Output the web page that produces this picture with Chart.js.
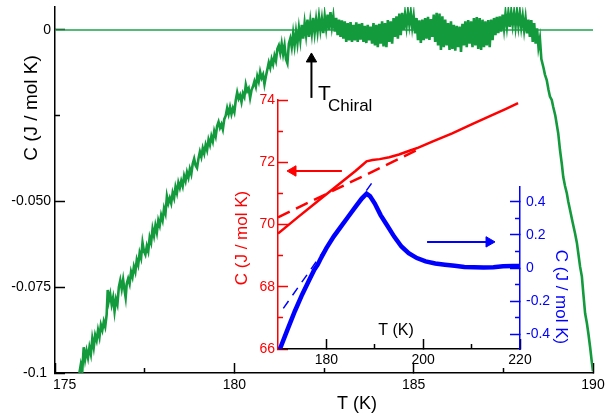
<!DOCTYPE html>
<html><head><meta charset="utf-8">
<script src="https://cdn.jsdelivr.net/npm/chart.js@4"></script>
<style>
html,body{margin:0;padding:0;background:#fff;}
#wrap{position:relative;width:606px;height:417px;overflow:hidden;}
#wrap canvas{position:absolute;left:0;top:0;}
</style></head><body>
<div id="wrap">
<canvas id="cMain" width="606" height="417"></canvas>
<canvas id="cRed" width="606" height="417"></canvas>
<canvas id="cBlue" width="606" height="417"></canvas>
</div>
<script>
// ---------- main plot data (excess heat capacity, noisy trace) ----------
const greenT = [
175.68,175.72,175.76,175.80,175.84,175.88,175.92,175.96,176.00,176.04,
176.08,176.12,176.16,176.20,176.24,176.28,176.32,176.36,176.40,176.44,
176.47,176.50,176.54,176.58,176.62,176.66,176.70,176.74,176.78,176.82,
176.86,176.90,176.94,176.97,177.00,177.04,177.08,177.12,177.16,177.20,
177.24,177.28,177.32,177.36,177.40,177.44,177.48,177.52,177.56,177.60,
177.64,177.68,177.72,177.76,177.80,177.84,177.88,177.92,177.96,178.00,
178.04,178.08,178.12,178.16,178.20,178.24,178.28,178.32,178.36,178.40,
178.44,178.48,178.52,178.56,178.60,178.64,178.68,178.72,178.76,178.80,
178.84,178.88,178.92,178.96,179.00,179.04,179.08,179.12,179.16,179.20,
179.24,179.28,179.32,179.36,179.40,179.44,179.48,179.52,179.56,179.60,
179.64,179.68,179.72,179.76,179.80,179.84,179.88,179.92,179.96,180.00,
180.04,180.08,180.12,180.16,180.20,180.24,180.28,180.32,180.36,180.40,
180.44,180.48,180.52,180.56,180.60,180.64,180.68,180.72,180.76,180.80,
180.84,180.88,180.92,180.96,181.00,181.04,181.08,181.12,181.16,181.20,
181.24,181.28,181.32,181.36,181.40,181.44,181.48,181.52,181.56,181.60,
181.64,181.68,181.72,181.76,181.80,181.84,181.88,181.92,181.96,182.00,
182.04,182.08,182.12,182.16,182.20,182.24,182.28,182.32,182.36,182.40,
182.44,182.48,182.52,182.56,182.60,182.64,182.68,182.72,182.76,182.80,
182.84,182.88,182.92,182.96,183.00,183.04,183.08,183.12,183.16,183.20,
183.24,183.28,183.32,183.36,183.40,183.44,183.48,183.52,183.56,183.60,
183.64,183.68,183.72,183.76,183.80,183.84,183.88,183.92,183.96,184.00,
184.04,184.08,184.12,184.16,184.20,184.24,184.28,184.32,184.36,184.40,
184.44,184.48,184.52,184.56,184.60,184.64,184.68,184.72,184.76,184.80,
184.84,184.88,184.92,184.96,185.00,185.04,185.08,185.12,185.16,185.20,
185.24,185.28,185.32,185.36,185.40,185.44,185.48,185.52,185.56,185.60,
185.64,185.68,185.72,185.76,185.80,185.84,185.88,185.92,185.96,186.00,
186.04,186.08,186.12,186.16,186.20,186.24,186.28,186.32,186.36,186.40,
186.44,186.48,186.52,186.56,186.60,186.64,186.68,186.72,186.76,186.80,
186.84,186.88,186.92,186.96,187.00,187.04,187.08,187.12,187.16,187.20,
187.24,187.28,187.32,187.36,187.40,187.44,187.48,187.52,187.56,187.60,
187.64,187.68,187.72,187.76,187.80,187.84,187.88,187.92,187.96,188.00,
188.04,188.08,188.12,188.16,188.20,188.24,188.28,188.32,188.36,188.40,
188.44,188.48,188.52,188.56,188.62,188.66,188.71,188.76,188.80,188.85,
188.89,188.95,189.03,189.08,189.13,189.17,189.22,189.27,189.31,189.36,
189.43,189.50,189.55,189.59,189.64,189.69,189.73,189.78,189.83,189.87,
189.92,189.96,190.00];
const greenC = [
-0.1000,-0.0975,-0.0995,-0.0925,-0.0960,-0.0935,-0.0955,-0.0925,-0.0945,-0.0900,
-0.0925,-0.0890,-0.0905,-0.0875,-0.0895,-0.0860,-0.0875,-0.0850,-0.0865,-0.0830,
-0.0758,-0.0790,-0.0770,-0.0800,-0.0780,-0.0820,-0.0785,-0.0800,-0.0750,-0.0730,
-0.0755,-0.0728,-0.0760,-0.0780,-0.0740,-0.0725,-0.0740,-0.0705,-0.0720,-0.0690,
-0.0705,-0.0670,-0.0685,-0.0650,-0.0665,-0.0620,-0.0645,-0.0655,-0.0630,-0.0645,
-0.0605,-0.0620,-0.0580,-0.0600,-0.0570,-0.0590,-0.0555,-0.0570,-0.0540,-0.0555,
-0.0520,-0.0535,-0.0485,-0.0505,-0.0490,-0.0505,-0.0475,-0.0490,-0.0458,-0.0475,
-0.0445,-0.0460,-0.0440,-0.0455,-0.0425,-0.0440,-0.0415,-0.0430,-0.0405,-0.0420,
-0.0390,-0.0375,-0.0395,-0.0402,-0.0375,-0.0355,-0.0370,-0.0345,-0.0360,-0.0335,
-0.0350,-0.0320,-0.0335,-0.0310,-0.0325,-0.0295,-0.0310,-0.0280,-0.0268,-0.0285,
-0.0275,-0.0290,-0.0260,-0.0250,-0.0228,-0.0245,-0.0225,-0.0245,-0.0228,-0.0240,
-0.0205,-0.0182,-0.0200,-0.0190,-0.0210,-0.0185,-0.0195,-0.0160,-0.0178,-0.0170,
-0.0198,-0.0175,-0.0165,-0.0150,-0.0165,-0.0135,-0.0150,-0.0122,-0.0140,-0.0130,
-0.0158,-0.0135,-0.0115,-0.0095,-0.0110,-0.0085,-0.0100,-0.0075,-0.0090,-0.0055,
-0.0045,-0.0067,-0.0040,-0.0070,-0.0045,-0.0085,-0.0097,-0.0040,-0.0025,-0.0050,
-0.0010,-0.0045,-0.0005,-0.0038,0.0005,-0.0030,0.0015,-0.0025,0.0020,-0.0015,
0.0030,-0.0020,0.0025,-0.0010,0.0035,-0.0008,0.0030,-0.0005,0.0038,0.0000,
0.0032,-0.0009,0.0040,0.0005,0.0045,0.0000,0.0052,0.0010,0.0040,-0.0005,
0.0035,-0.0015,0.0030,-0.0020,0.0028,-0.0025,0.0025,-0.0035,0.0020,-0.0030,
0.0023,-0.0035,0.0015,-0.0030,0.0022,-0.0035,0.0018,-0.0028,0.0020,-0.0035,
0.0012,-0.0038,0.0015,-0.0030,0.0010,-0.0040,0.0020,-0.0045,0.0015,-0.0050,
0.0018,-0.0040,0.0025,-0.0048,0.0020,-0.0050,0.0029,-0.0035,0.0025,-0.0040,
0.0035,-0.0020,0.0040,-0.0025,0.0048,-0.0015,0.0050,0.0000,0.0045,0.0010,
0.0052,0.0015,0.0050,0.0008,0.0040,-0.0010,0.0035,-0.0030,0.0028,-0.0038,
0.0030,-0.0030,0.0035,-0.0025,0.0038,-0.0029,0.0032,-0.0020,0.0045,-0.0035,
0.0050,-0.0045,0.0048,-0.0058,0.0040,-0.0050,0.0030,-0.0045,0.0020,-0.0058,
0.0025,-0.0055,0.0015,-0.0060,0.0012,-0.0050,0.0010,-0.0064,0.0018,-0.0045,
0.0025,-0.0050,0.0029,-0.0040,0.0025,-0.0050,0.0035,-0.0045,0.0038,-0.0055,
0.0035,-0.0058,0.0030,-0.0050,0.0025,-0.0045,0.0029,-0.0050,0.0030,-0.0030,
0.0035,-0.0015,0.0038,-0.0009,0.0040,-0.0005,0.0045,0.0005,0.0048,0.0010,
0.0050,0.0009,0.0052,0.0015,0.0050,0.0010,0.0052,0.0012,0.0050,0.0008,
0.0040,0.0000,0.0035,-0.0010,0.0030,-0.0020,0.0029,-0.0035,0.0020,-0.0040,
0.0005,-0.0050,-0.0025,-0.0085,-0.0110,-0.0130,-0.0146,-0.0175,-0.0194,-0.0204,
-0.0224,-0.0250,-0.0301,-0.0350,-0.0390,-0.0428,-0.0455,-0.0476,-0.0500,-0.0525,
-0.0560,-0.0593,-0.0620,-0.0651,-0.0690,-0.0719,-0.0768,-0.0826,-0.0855,-0.0884,
-0.0925,-0.0962,-0.0995];
const zeroT = [175, 190];
const zeroC = [0, 0];
const chiralLineT = [182.15, 182.15];
const chiralLineC = [-0.0198, -0.0093];
const chiralHeadT = [182.15];
const chiralHeadC = [-0.00845];

const mainXTicks = [175, 180, 185, 190];
const mainXLabels = ['     175', '180', '185', '190'];
const mainXMinor = [177.5, 182.5, 187.5];
const mainYTicks = [0, -0.05, -0.075, -0.1];
const mainYLabels = ['0', '-0.050', '-0.075', '-0.1 '];
const mainYMinor = [-0.025];

// ---------- inset: total heat capacity (red, left axis) ----------
const redT = [170, 174, 178, 182, 186, 187.5, 188.3, 189.5, 191, 193, 195, 197, 199, 202, 206, 210, 214, 217, 219.6];
const redC = [69.71, 70.22, 70.72, 71.22, 71.72, 71.92, 72.03, 72.07, 72.10, 72.16, 72.25, 72.36, 72.47, 72.67, 72.93, 73.22, 73.50, 73.71, 73.90];
const redBaseT = [170, 199.5];
const redBaseC = [70.23, 72.45];
const redArrowT = [173.1, 183.2];
const redArrowC = [71.72, 71.72];
const redTicks = [66, 68, 70, 72, 74];
const redMinor = [67, 69, 71, 73];
const insetXTicks = [180, 200, 220];
const insetXMinor = [190, 210];

// ---------- inset: excess heat capacity (blue, right axis) ----------
const blueT = [170.4, 172.0, 173.5, 175.0, 176.5, 177.5, 178.2, 178.7, 180.0, 181.5, 183.0, 184.5, 186.0, 187.3, 188.3, 189.0, 190.0, 191.2, 192.5, 194.0, 195.5, 197.0, 198.7, 200.5, 202.5, 204.5, 206.5, 208.5, 210.5, 212.5, 214.5, 216.5, 218.5, 220.0];
const blueC = [-0.49, -0.37, -0.26, -0.16, -0.07, -0.01, 0.02, 0.05, 0.12, 0.19, 0.25, 0.31, 0.37, 0.42, 0.45, 0.435, 0.39, 0.32, 0.26, 0.19, 0.13, 0.09, 0.06, 0.04, 0.027, 0.02, 0.013, 0.006, 0.004, 0.003, 0.005, 0.01, 0.012, 0.012];
const blueBaseT = [171.1, 190.0];
const blueBaseC = [-0.244, 0.54];
const blueArrowT = [200.8, 213.6];
const blueArrowC = [0.158, 0.158];
const blueTicks = [-0.4, -0.2, 0, 0.2, 0.4];
const blueLabels = ['-0.4', '-0.2', '0', '0.2', '0.4'];
const blueMinor = [-0.3, -0.1, 0.1, 0.3];

// ---------- helpers ----------
const FONT = "'Liberation Sans', Arial, Helvetica, sans-serif";
const GREEN = '#129a3c', RED = '#ff0000', BLUE = '#0000ff';
const pts = (xs, ys) => xs.map((x, i) => ({x: x, y: ys[i]}));
const fixTicks = list => s => { s.ticks = list.map(v => ({value: v})); };
const noPad = s => { s.paddingTop = 0; s.paddingBottom = 0; s.paddingLeft = 0; s.paddingRight = 0; };
const fixSize = (prop, size) => s => { s[prop] = size; noPad(s); };
function minorAxis(axis, min, max, pos, list, color, len) {
  return { type: 'linear', axis: axis, min: min, max: max, position: pos,
    afterBuildTicks: fixTicks(list), afterFit: noPad,
    ticks: {display: false}, border: {display: false},
    grid: {drawOnChartArea: false, drawTicks: true, tickLength: len, tickWidth: 1.5, tickColor: color} };
}
function textPlugin(items) {
  return { id: 'texts', afterDraw(chart) {
    const ctx = chart.ctx;
    items.forEach(t => {
      ctx.save();
      ctx.translate(t.x, t.y);
      ctx.rotate(t.rot || 0);
      ctx.font = t.size + 'px ' + FONT;
      ctx.fillStyle = t.color || '#000';
      ctx.textAlign = t.align || 'center';
      ctx.textBaseline = t.base || 'middle';
      ctx.fillText(t.text, 0, 0);
      ctx.restore();
    });
  }};
}
const common = {
  responsive: false, animation: false, devicePixelRatio: 1,
  plugins: {legend: {display: false}, tooltip: {enabled: false}},
  elements: {point: {radius: 0}, line: {tension: 0}}
};

// ---------- main chart ----------
new Chart(document.getElementById('cMain'), {
  type: 'line',
  data: { datasets: [
    {data: pts(greenT, greenC), borderColor: GREEN, borderWidth: 2.6, xAxisID: 'x', yAxisID: 'y'},
    {data: pts(zeroT, zeroC), borderColor: '#1aa34a', borderWidth: 1.3, xAxisID: 'x', yAxisID: 'y'},
    {data: pts(chiralLineT, chiralLineC), borderColor: '#000', borderWidth: 2, xAxisID: 'x', yAxisID: 'y'},
    {data: pts(chiralHeadT, chiralHeadC), showLine: false, pointStyle: 'triangle', pointRadius: 6, pointRotation: 0,
     pointBackgroundColor: '#000', pointBorderColor: '#000', pointBorderWidth: 1, xAxisID: 'x', yAxisID: 'y'}
  ]},
  options: Object.assign({}, common, {
    layout: {padding: {left: 0, top: 7, right: 13, bottom: 0}},
    scales: {
      x: { type: 'linear', min: 175, max: 190, position: 'bottom',
        afterBuildTicks: fixTicks(mainXTicks), afterFit: fixSize('height', 44),
        ticks: {autoSkip: false, maxRotation: 0, padding: 14, color: '#000', font: {family: FONT, size: 14},
          callback: (v, i) => mainXLabels[i]},
        border: {color: '#000', width: 1.5},
        grid: {drawOnChartArea: false, tickLength: -10, tickWidth: 1.5, tickColor: '#000'} },
      xm: minorAxis('x', 175, 190, {y: -0.1}, mainXMinor, '#000', -5),
      y: { type: 'linear', min: -0.1, max: 0.0067, position: 'left',
        afterBuildTicks: fixTicks(mainYTicks), afterFit: fixSize('width', 55),
        ticks: {autoSkip: false, padding: 14, color: '#000', font: {family: FONT, size: 14},
          callback: (v, i) => mainYLabels[i]},
        border: {color: '#000', width: 1.5},
        grid: {drawOnChartArea: false, tickLength: -10, tickWidth: 1.5, tickColor: '#000'} },
      ym: minorAxis('y', -0.1, 0.0067, {x: 175}, mainYMinor, '#000', -5)
    }
  }),
  plugins: [textPlugin([
    {text: 'C (J / mol K)', x: 32, y: 108, rot: -Math.PI / 2, size: 19},
    {text: 'T (K)', x: 357, y: 404, size: 18},
    {text: 'T', x: 318, y: 100, size: 21, align: 'left', base: 'alphabetic'},
    {text: 'Chiral', x: 328, y: 111, size: 17, align: 'left', base: 'alphabetic'}
  ])]
});

// ---------- inset, red axis + temperature axis ----------
new Chart(document.getElementById('cRed'), {
  type: 'line',
  data: { datasets: [
    {data: pts(redT, redC), borderColor: RED, borderWidth: 2.5, xAxisID: 'x', yAxisID: 'y'},
    {data: pts(redBaseT, redBaseC), borderColor: RED, borderWidth: 2.5, borderDash: [13, 7], xAxisID: 'x', yAxisID: 'y'},
    {data: pts(redArrowT, redArrowC), borderColor: RED, borderWidth: 2, xAxisID: 'x', yAxisID: 'y'},
    {data: pts(redArrowT.slice(0, 1), redArrowC.slice(0, 1)), showLine: false, pointStyle: 'triangle', pointRadius: 6,
     pointRotation: -90, pointBackgroundColor: RED, pointBorderColor: RED, pointBorderWidth: 1, xAxisID: 'x', yAxisID: 'y'}
  ]},
  options: Object.assign({}, common, {
    layout: {padding: {left: 0, top: 100, right: 86, bottom: 0}},
    scales: {
      x: { type: 'linear', min: 170, max: 220, position: 'bottom',
        afterBuildTicks: fixTicks(insetXTicks), afterFit: fixSize('height', 68),
        ticks: {autoSkip: false, maxRotation: 0, padding: 13, color: '#000', font: {family: FONT, size: 14}},
        border: {color: '#000', width: 1.5},
        grid: {drawOnChartArea: false, tickLength: -10, tickWidth: 1.5, tickColor: '#000'} },
      xm: minorAxis('x', 170, 220, {y: 66}, insetXMinor, '#000', -5),
      y: { type: 'linear', min: 66, max: 74, position: 'left',
        afterBuildTicks: fixTicks(redTicks), afterFit: fixSize('width', 278),
        ticks: {autoSkip: false, padding: 13, color: RED, font: {family: FONT, size: 14}},
        border: {color: RED, width: 1.5},
        grid: {drawOnChartArea: false, tickLength: -10, tickWidth: 1.5, tickColor: RED} },
      ym: minorAxis('y', 66, 74, {x: 170}, redMinor, RED, -5)
    }
  }),
  plugins: [textPlugin([
    {text: 'C (J / mol K)', x: 242, y: 238, rot: -Math.PI / 2, size: 17, color: RED},
    {text: 'T (K)', x: 396, y: 331, size: 16}
  ])]
});

// ---------- inset, blue axis ----------
new Chart(document.getElementById('cBlue'), {
  type: 'line',
  data: { datasets: [
    {data: pts(blueT, blueC), borderColor: BLUE, borderWidth: 4.5, xAxisID: 'x', yAxisID: 'y'},
    {data: pts(blueBaseT, blueBaseC), borderColor: BLUE, borderWidth: 1.5, borderDash: [9, 7], clip: false, xAxisID: 'x', yAxisID: 'y'},
    {data: pts(blueArrowT, blueArrowC), borderColor: BLUE, borderWidth: 2, xAxisID: 'x', yAxisID: 'y'},
    {data: pts(blueArrowT.slice(1), blueArrowC.slice(1)), showLine: false, pointStyle: 'triangle', pointRadius: 6,
     pointRotation: 90, pointBackgroundColor: BLUE, pointBorderColor: BLUE, pointBorderWidth: 1, xAxisID: 'x', yAxisID: 'y'}
  ]},
  options: Object.assign({}, common, {
    layout: {padding: {left: 278, top: 187, right: 0, bottom: 68}},
    scales: {
      x: { type: 'linear', min: 170, max: 220, display: false },
      y: { type: 'linear', min: -0.49, max: 0.49, position: 'right',
        afterBuildTicks: fixTicks(blueTicks), afterFit: fixSize('width', 86),
        ticks: {autoSkip: false, padding: 16, color: BLUE, font: {family: FONT, size: 14},
          callback: (v, i) => blueLabels[i]},
        border: {color: BLUE, width: 1.5},
        grid: {drawOnChartArea: false, tickLength: -10, tickWidth: 1.5, tickColor: BLUE} },
      ym: minorAxis('y', -0.49, 0.49, {x: 220}, blueMinor, BLUE, 5)
    }
  }),
  plugins: [textPlugin([
    {text: 'C (J / mol K)', x: 561, y: 297, rot: Math.PI / 2, size: 17, color: BLUE}
  ])]
});
</script>
</body></html>
